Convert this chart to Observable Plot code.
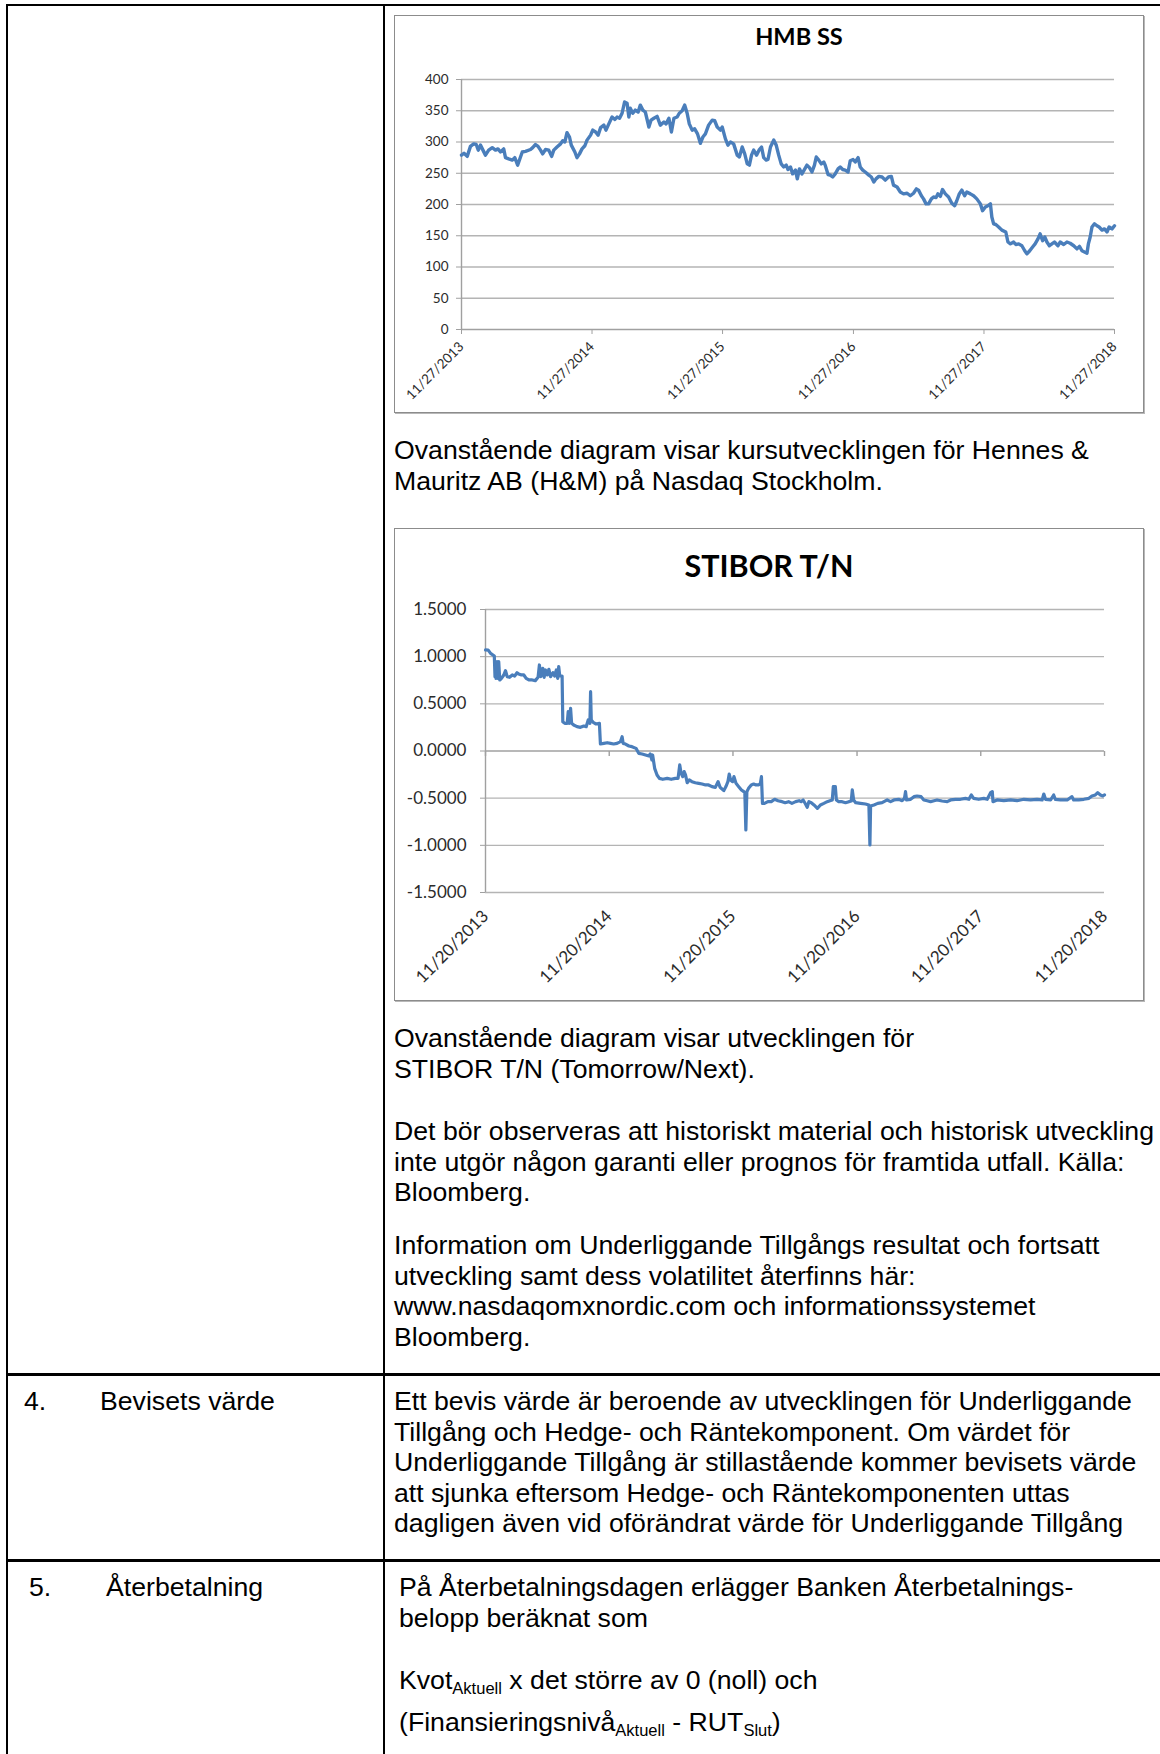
<!DOCTYPE html>
<html><head><meta charset="utf-8">
<script src="https://cdn.jsdelivr.net/npm/d3@7"></script>
<script src="https://cdn.jsdelivr.net/npm/@observablehq/plot@0.6"></script>
<style>
body{margin:0;background:#fff;}
#page{position:relative;width:1160px;height:1754px;overflow:hidden;font-family:"Liberation Sans",Arial,Helvetica,sans-serif;font-size:26.67px;line-height:30.6px;color:#000;background:#fff;}
.ln{position:absolute;background:#000;}
.t{position:absolute;white-space:nowrap;}
.t sub{font-size:0.62em;vertical-align:-0.32em;line-height:0;}
.box{position:absolute;border:1.5px solid #8c8c8c;box-sizing:border-box;box-shadow:1px 1px 0 #b8b8b8;}
.ctitle{position:absolute;font-family:Lato,"Open Sans",sans-serif;font-weight:bold;white-space:nowrap;transform:translateX(-50%);line-height:1.2;color:#000;}
.chart{position:absolute;}
</style></head>
<body><div id="page">
  <!-- table rules -->
  <div class="ln" style="left:6px;top:4px;width:1154px;height:2px"></div>
  <div class="ln" style="left:6px;top:4px;width:2px;height:1750px"></div>
  <div class="ln" style="left:383px;top:4px;width:2px;height:1750px"></div>
  <div class="ln" style="left:6px;top:1373px;width:1154px;height:2.5px"></div>
  <div class="ln" style="left:6px;top:1559px;width:1154px;height:2.5px"></div>

  <div class="box" style="left:394px;top:15px;width:750px;height:398px"></div>
  <div class="ctitle" id="t1" style="left:799px;top:22px;font-size:23.6px">HMB SS</div>
  <div class="chart" id="c1" style="left:394px;top:15px"></div>

  <div class="t" style="left:394px;top:435px">Ovanstående diagram visar kursutvecklingen för Hennes &amp;<br>Mauritz AB (H&amp;M) på Nasdaq Stockholm.</div>

  <div class="box" style="left:394px;top:528px;width:750px;height:473px"></div>
  <div class="ctitle" id="t2" style="left:769px;top:547px;font-size:30.5px">STIBOR T/N</div>
  <div class="chart" id="c2" style="left:394px;top:528px"></div>

  <div class="t" style="left:394px;top:1023px">Ovanstående diagram visar utvecklingen för<br>STIBOR T/N (Tomorrow/Next).</div>
  <div class="t" style="left:394px;top:1116px">Det bör observeras att historiskt material och historisk utveckling<br>inte utgör någon garanti eller prognos för framtida utfall. Källa:<br>Bloomberg.</div>
  <div class="t" style="left:394px;top:1230px">Information om Underliggande Tillgångs resultat och fortsatt<br>utveckling samt dess volatilitet återfinns här:<br>www.nasdaqomxnordic.com och informationssystemet<br>Bloomberg.</div>

  <div class="t" style="left:24px;top:1386px">4.</div>
  <div class="t" style="left:100px;top:1386px">Bevisets värde</div>
  <div class="t" style="left:394px;top:1386px">Ett bevis värde är beroende av utvecklingen för Underliggande<br>Tillgång och Hedge- och Räntekomponent. Om värdet för<br>Underliggande Tillgång är stillastående kommer bevisets värde<br>att sjunka eftersom Hedge- och Räntekomponenten uttas<br>dagligen även vid oförändrat värde för Underliggande Tillgång</div>

  <div class="t" style="left:29px;top:1572px">5.</div>
  <div class="t" style="left:106px;top:1572px">Återbetalning</div>
  <div class="t" style="left:399px;top:1572px">På Återbetalningsdagen erlägger Banken Återbetalnings-<br>belopp beräknat som</div>
  <div class="t" style="left:399px;top:1665px">Kvot<sub>Aktuell</sub> x det större av 0 (noll) och</div>
  <div class="t" style="left:399px;top:1707px">(Finansieringsnivå<sub>Aktuell</sub> - RUT<sub>Slut</sub>)</div>
</div>
<script>
// ---------- HMB SS (price, SEK) ----------
const hmbStart = "2013-11-27";
const hmbDay = [0,7,16,25,34,41,47,53,60,67,76,86,95,102,109,118,123,132,142,149,157,165,170,179,193,199,207,214,221,227,235,244,252,258,267,277,283,289,295,302,307,317,323,330,337,345,351,361,367,375,382,389,398,404,412,421,429,435,442,449,456,463,468,472,479,486,494,500,507,514,524,530,538,547,556,566,572,580,587,594,603,609,617,624,631,637,645,652,660,668,675,682,691,701,708,715,724,729,738,745,752,761,771,777,785,792,799,805,811,817,825,833,839,845,852,857,864,873,880,887,894,901,908,
913,920,926,934,939,945,952,960,966,973,980,987,992,999,1006,1013,1017,1025,1031,1038,1045,1053,1059,1066,1073,1081,1087,1095,1101,1109,1115,1122,1129,1139,1146,1153,1159,1167,1176,1185,1194,1202,1208,1218,1227,1236,1246,1255,1264,1272,1278,1286,1292,1299,1306,1314,1320,1327,1332,1339,1345,1353,1362,1371,1379,1385,1392,1399,1407,1413,1423,1432,1441,1451,1457,1465,1472,1479,1483,1488,1494,1502,1511,1522,1528,1535,1544,1550,1558,1567,1575,1581,1589,1597,1604,1612,1618,1625,1631,1637,1644,1651,1658,1668,1674,1684,1693,1702,1712,1721,1728,1735,1742,1749,1753,1758,1763,1770,1777,1783,1791,1798,1805,1811,1819,1826];
const hmbValue = [279,282,277,293,297,296,287,295,287,279,287,291,287,289,284,289,275,273,271,275,263,276,284,285,288,291,296,293,287,281,288,287,277,287,292,297,302,300,315,308,295,284,275,281,289,294,303,311,319,316,311,323,327,319,329,340,336,340,338,346,364,362,340,354,346,351,348,359,351,348,324,335,338,341,327,332,329,338,316,338,340,346,350,359,346,329,319,321,313,298,308,313,327,335,334,324,319,324,305,295,300,297,279,276,292,281,265,263,279,287,279,288,292,275,271,272,292,303,295,279,265,260,263,
256,260,249,255,241,257,249,257,263,259,252,263,276,271,265,268,263,248,247,244,249,257,260,256,255,252,270,272,268,275,260,255,252,247,244,236,241,245,244,239,244,245,231,228,220,217,218,214,218,225,223,214,209,201,201,209,212,211,217,213,224,217,212,202,198,206,217,223,214,220,217,214,209,201,190,196,198,201,180,169,168,164,159,156,140,137,140,136,137,134,126,121,126,132,137,145,153,142,148,140,134,137,140,134,140,136,140,138,134,129,133,126,124,122,137,148,164,169,166,164,159,161,156,164,161,166];
const hmbTickDates = ["2013-11-27","2014-11-27","2015-11-27","2016-11-27","2017-11-27","2018-11-27"];
const hmbTickLabels = ["11/27/2013","11/27/2014","11/27/2015","11/27/2016","11/27/2017","11/27/2018"];
const hmbYTicks = [0,50,100,150,200,250,300,350,400];

// ---------- STIBOR T/N (%) ----------
const stStart = "2013-11-20";
const stDay = [0,8,15,22,26,28,29,31,34,37,39,42,47,54,59,64,71,79,86,93,98,106,113,120,128,138,147,155,159,163,169,173,177,182,187,192,199,204,209,213,216,219,226,228,234,241,244,247,251,254,260,270,280,290,297,303,308,310,312,319,326,336,339,349,359,369,378,388,398,403,406,413,423,432,444,452,462,472,482,486,491,493,499,506,513,523,536,548,560,568,573,577,582,586,590,595,601,609,619,629,639,649,658,668,678,686,692,703,710,715,719,723,729,733,739,747,755,762,765,768,771,776,784,791,798,806,811,814,817,823,833,843,853,863,875,884,894,904,
915,925,931,937,944,949,954,961,969,979,988,998,1008,1016,1023,1026,1032,1035,1042,1052,1062,1072,1079,1082,1086,1092,1106,1121,1131,1134,1136,1146,1157,1170,1185,1195,1205,1219,1229,1236,1239,1242,1254,1264,1273,1285,1293,1303,1313,1323,1332,1347,1362,1372,1386,1401,1416,1426,1433,1440,1455,1470,1480,1490,1495,1497,1509,1529,1549,1568,1588,1608,1627,1642,1647,1652,1667,1676,1681,1696,1716,1730,1735,1750,1765,1780,1789,1799,1806,1814,1821,1826];
const stValue = [1.071,1.07,1.035,1.018,1.007,0.788,0.894,0.77,0.947,0.77,0.947,0.753,0.77,0.806,0.852,0.788,0.781,0.806,0.795,0.83,0.816,0.806,0.806,0.77,0.753,0.753,0.746,0.781,0.912,0.788,0.876,0.781,0.859,0.806,0.866,0.788,0.83,0.795,0.859,0.77,0.894,0.795,0.795,0.311,0.293,0.293,0.417,0.293,0.452,0.293,0.276,0.258,0.251,0.265,0.258,0.329,0.293,0.629,0.329,0.3,0.286,0.293,0.074,0.081,0.088,0.081,0.074,0.081,0.099,0.152,0.081,0.074,0.053,0.046,0.028,-0.025,-0.032,-0.042,-0.053,-0.032,-0.095,-0.042,-0.184,-0.254,-0.29,-0.3,-0.29,-0.3,-0.29,-0.29,-0.148,-0.237,-0.272,-0.219,-0.254,-0.336,-0.307,-0.325,-0.336,-0.343,-0.35,-0.36,-0.36,-0.378,-0.385,-0.325,-0.385,-0.42,-0.371,-0.325,-0.244,-0.307,-0.325,-0.272,-0.343,-0.378,-0.413,-0.431,-0.442,-0.837,-0.431,-0.396,-0.36,-0.35,-0.36,-0.36,-0.343,-0.272,-0.555,-0.555,-0.537,-0.537,-0.512,-0.527,-0.537,-0.548,-0.537,-0.555,
-0.537,-0.527,-0.537,-0.519,-0.562,-0.597,-0.537,-0.548,-0.572,-0.608,-0.572,-0.555,-0.537,-0.527,-0.519,-0.378,-0.378,-0.519,-0.537,-0.537,-0.548,-0.537,-0.53,-0.413,-0.519,-0.548,-0.555,-0.562,-0.572,-0.996,-0.583,-0.572,-0.555,-0.548,-0.519,-0.537,-0.519,-0.512,-0.527,-0.502,-0.431,-0.519,-0.512,-0.484,-0.477,-0.484,-0.519,-0.527,-0.537,-0.527,-0.519,-0.53,-0.537,-0.519,-0.512,-0.512,-0.502,-0.512,-0.466,-0.502,-0.512,-0.502,-0.512,-0.442,-0.431,-0.537,-0.519,-0.527,-0.519,-0.527,-0.512,-0.519,-0.512,-0.519,-0.456,-0.512,-0.519,-0.466,-0.512,-0.519,-0.519,-0.484,-0.519,-0.519,-0.512,-0.502,-0.477,-0.466,-0.442,-0.466,-0.477,-0.466];
const stTickDates = ["2013-11-20","2014-11-20","2015-11-20","2016-11-20","2017-11-20","2018-11-20"];
const stTickLabels = ["11/20/2013","11/20/2014","11/20/2015","11/20/2016","11/20/2017","11/20/2018"];
const stYTicks = [-1.5,-1,-0.5,0,0.5,1,1.5];
const stYTickLabels = ["-1.5000","-1.0000","-0.5000","0.0000","0.5000","1.0000","1.5000"];

// ---------- build ----------
const LINE = "#4a7ebb", GRID = "#b4b4b4", AXIS = "#a0a0a0", TXT = "#2b2b2b";
const tickSym = {draw(ctx){ ctx.moveTo(0,0); ctx.lineTo(0,5); }};

const hmbT0 = new Date(hmbStart);
const hmbData = hmbDay.map((d,i)=>({date: d3.utcDay.offset(hmbT0, d), value: hmbValue[i]}));
const hmbTicks = hmbTickDates.map(s=>new Date(s));
const hmbLab = new Map(hmbTicks.map((d,i)=>[+d, hmbTickLabels[i]]));

const c1 = Plot.plot({
  width: 750, height: 398,
  marginLeft: 67, marginRight: 30, marginTop: 64, marginBottom: 84,
  style: {fontFamily: "Lato, 'Open Sans', sans-serif", fontSize: "13.5px", color: TXT, background: "transparent", overflow: "visible"},
  x: {type: "utc", domain: [hmbTicks[0], hmbTicks[hmbTicks.length-1]]},
  y: {domain: [0, 400]},
  marks: [
    Plot.ruleY(hmbYTicks.filter(v=>v>0), {stroke: GRID, strokeWidth: 1.4}),
    Plot.ruleY([0], {stroke: AXIS, strokeWidth: 1.4}),
    Plot.ruleX([hmbTicks[0]], {stroke: AXIS, strokeWidth: 1.4}),
    Plot.axisY({ticks: hmbYTicks, tickSize: 5, tickPadding: 8, stroke: AXIS, label: null, tickFormat: d=>String(d)}),
    Plot.axisX({ticks: hmbTicks, tickSize: 5, tickPadding: 10, tickRotate: -45, stroke: AXIS, label: null, tickFormat: d=>hmbLab.get(+d)}),
    Plot.line(hmbData, {x: "date", y: "value", stroke: LINE, strokeWidth: 3.4, strokeLinejoin: "round"})
  ]
});
document.getElementById("c1").append(c1);

const stT0 = new Date(stStart);
const stData = stDay.map((d,i)=>({date: d3.utcDay.offset(stT0, d), value: stValue[i]}));
const stTicks = stTickDates.map(s=>new Date(s));
const stLab = new Map(stTicks.map((d,i)=>[+d, stTickLabels[i]]));
const stYLab = new Map(stYTicks.map((v,i)=>[v, stYTickLabels[i]]));

const c2 = Plot.plot({
  width: 750, height: 473,
  marginLeft: 91, marginRight: 40, marginTop: 81, marginBottom: 109,
  style: {fontFamily: "Lato, 'Open Sans', sans-serif", fontSize: "17px", color: TXT, background: "transparent", overflow: "visible"},
  x: {type: "utc", domain: [stTicks[0], stTicks[stTicks.length-1]]},
  y: {domain: [-1.5, 1.5]},
  marks: [
    Plot.ruleY(stYTicks.filter(v=>v!==0), {stroke: GRID, strokeWidth: 1.4}),
    Plot.ruleY([0], {stroke: AXIS, strokeWidth: 1.4}),
    Plot.ruleX([stTicks[0]], {stroke: AXIS, strokeWidth: 1.4}),
    Plot.dot(stTicks, {x: d=>d, y: 0, symbol: tickSym, r: 3, fill: "none", stroke: AXIS, strokeWidth: 1.4}),
    Plot.axisY({ticks: stYTicks, tickSize: 5, tickPadding: 14, stroke: AXIS, label: null, tickFormat: d=>stYLab.get(d)}),
    Plot.axisX({ticks: stTicks, tickSize: 0, tickPadding: 21, tickRotate: -45, label: null, tickFormat: d=>stLab.get(+d)}),
    Plot.line(stData, {x: "date", y: "value", stroke: LINE, strokeWidth: 3.2, strokeLinejoin: "round"})
  ]
});
document.getElementById("c2").append(c2);
</script>
</body></html>
